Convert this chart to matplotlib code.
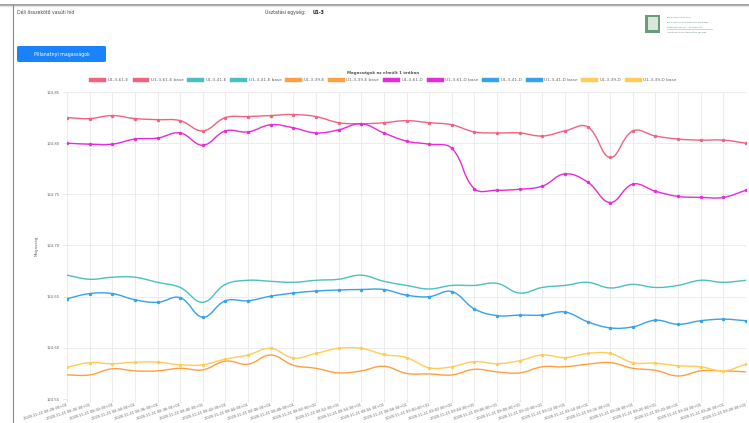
import numpy as np
import matplotlib
matplotlib.use('Agg')
import matplotlib.pyplot as plt
from matplotlib.path import Path
from matplotlib.patches import PathPatch, Patch, FancyBboxPatch, Rectangle
from matplotlib.lines import Line2D

# idopontok (2 percenkent)
times = ['2020-11-21 %02d:%02d:00+01' % divmod(8 * 60 + 28 + 2 * k, 60) for k in range(31)]

# magassagok
u61e = [124.825, 124.824, 124.827, 124.824, 124.823, 124.822, 124.812, 124.825, 124.826, 124.827,
        124.828, 124.826, 124.820, 124.819, 124.820, 124.822, 124.820, 124.818, 124.811, 124.810,
        124.810, 124.807, 124.812, 124.816, 124.786, 124.812, 124.807, 124.804, 124.803, 124.803,
        124.800]
u61d = [124.800, 124.799, 124.799, 124.804, 124.805, 124.810, 124.798, 124.812, 124.811, 124.818,
        124.815, 124.810, 124.813, 124.819, 124.810, 124.802, 124.799, 124.795, 124.7555, 124.754,
        124.755, 124.758, 124.770, 124.762, 124.742, 124.760, 124.753, 124.748, 124.747, 124.747,
        124.754]
u41e = [124.671, 124.667, 124.669, 124.669, 124.664, 124.659, 124.6445, 124.662, 124.666, 124.665,
        124.664, 124.666, 124.667, 124.671, 124.665, 124.661, 124.6575, 124.661, 124.661, 124.663,
        124.6535, 124.659, 124.661, 124.664, 124.6585, 124.662, 124.659, 124.661, 124.666, 124.664,
        124.666]
u41d = [124.648, 124.653, 124.653, 124.647, 124.6445, 124.649, 124.630, 124.646, 124.646, 124.6505,
        124.6535, 124.6555, 124.6565, 124.657, 124.657, 124.6515, 124.650, 124.655, 124.638, 124.6315,
        124.632, 124.632, 124.635, 124.6255, 124.6195, 124.6205, 124.627, 124.623, 124.6265, 124.628,
        124.6265]
u39e = [124.5735, 124.5735, 124.5795, 124.5775, 124.5775, 124.580, 124.5785, 124.587, 124.584, 124.593,
        124.583, 124.580, 124.5755, 124.5775, 124.582, 124.575, 124.5745, 124.5735, 124.579, 124.5765,
        124.5755, 124.5815, 124.5815, 124.584, 124.5855, 124.580, 124.578, 124.5725, 124.5775, 124.5775,
        124.5765]
u39d = [124.581, 124.5855, 124.5845, 124.586, 124.586, 124.5835, 124.5835, 124.589, 124.593, 124.5995,
        124.590, 124.5945, 124.5995, 124.5995, 124.5935, 124.5905, 124.5805, 124.5815, 124.5865, 124.5845,
        124.5875, 124.593, 124.5905, 124.5945, 124.5945, 124.5855, 124.585, 124.5825, 124.5815, 124.5775,
        124.584]

names = ['U1-3-61-E', 'U1-3-61-E base', 'U1-3-41-E', 'U1-3-41-E base', 'U1-3-39-E', 'U1-3-39-E base',
         'U1-3-61-D', 'U1-3-61-D base', 'U1-3-41-D', 'U1-3-41-D base', 'U1-3-39-D', 'U1-3-39-D base']
colors = ['#f2627f', '#f2627f', '#4bc0c0', '#4bc0c0', '#ff9f40', '#ff9f40',
          '#e82ad8', '#e82ad8', '#36a2eb', '#36a2eb', '#ffcd56', '#ffcd56']

yticks = [124.55, 124.60, 124.65, 124.70, 124.75, 124.80, 124.85]


def spline(ax, x, y, color, tension=0.4, sx=22.6, sy=1023.3):
    # bezier gorbe mint a chart.js-ben (pixel aranyokkal szamolva)
    px = np.array(x, float) * sx
    py = np.array(y, float) * sy
    n = len(px)
    verts = [(px[0], py[0])]
    codes = [Path.MOVETO]
    cps = []
    for i in range(n):
        p0 = (px[max(i - 1, 0)], py[max(i - 1, 0)])
        p2 = (px[min(i + 1, n - 1)], py[min(i + 1, n - 1)])
        d01 = np.hypot(px[i] - p0[0], py[i] - p0[1])
        d12 = np.hypot(p2[0] - px[i], p2[1] - py[i])
        tot = d01 + d12
        s01 = d01 / tot if tot else 0
        s12 = d12 / tot if tot else 0
        fa = tension * s01
        fb = tension * s12
        prev = (px[i] - fa * (p2[0] - p0[0]), py[i] - fa * (p2[1] - p0[1]))
        nxt = (px[i] + fb * (p2[0] - p0[0]), py[i] + fb * (p2[1] - p0[1]))
        cps.append((prev, nxt))
    for i in range(n - 1):
        verts += [cps[i][1], cps[i + 1][0], (px[i + 1], py[i + 1])]
        codes += [Path.CURVE4] * 3
    verts = [(a / sx, b / sy) for a, b in verts]
    ax.add_patch(PathPatch(Path(verts, codes), fc='none', ec=color, lw=1.0, zorder=3))


fig = plt.figure(figsize=(7.49, 4.23), dpi=100)
fig.patch.set_facecolor('white')
ax = fig.add_axes([67 / 749, 1 - 399 / 423, 679 / 749, 307 / 423])

x = np.arange(len(times))
series = [(u61e, colors[0], True), (u41e, colors[2], False), (u39e, colors[4], False),
          (u61d, colors[6], True), (u41d, colors[8], True), (u39d, colors[10], True)]
for vals, c, mk in series:
    spline(ax, x, vals, c)
    if mk:
        ax.plot(x, vals, 'o', ls='none', color=c, ms=2.5, mew=0, zorder=4)

ax.set_xlim(0, len(times) - 1)
ax.set_ylim(124.55, 124.85)
ax.set_yticks(yticks)
ax.set_yticklabels(['%.2f' % v for v in yticks])
ax.set_xticks(x)
ax.set_xticklabels(times, rotation=18, ha='right', va='top', rotation_mode='anchor')
ax.tick_params(axis='both', labelsize=2.7, colors='#e2e2e2', labelcolor='#666666', length=3, width=0.6, pad=2)
ax.tick_params(axis='x', labelsize=2.6, length=2, pad=0.8)
ax.grid(True, color='#ececec', lw=0.7)
for s in ax.spines.values():
    s.set_visible(False)
ax.set_ylabel('Magasság', fontsize=2.9, color='#666666', labelpad=6)

# cim + jelmagyarazat
fig.text(383 / 749, 1 - 73 / 423, 'Magasságok az elmúlt 1 órában', ha='center', va='center',
         fontsize=2.9, fontweight='bold', color='#555555')
handles = [Patch(facecolor=c, edgecolor=c, lw=0.3) for c in colors]
fig.legend(handles, names, loc='center', bbox_to_anchor=(383 / 749, 1 - 80 / 423), ncol=12,
           frameon=False, fontsize=3.1, handlelength=3.9, handleheight=1.3, handletextpad=0.3,
           columnspacing=0.9, labelcolor='#666666', borderpad=0)

# oldal elemei
fig.add_artist(Line2D([0, 1], [1 - 5 / 423, 1 - 5 / 423], color='#9a9a9a', lw=1.3))
fig.add_artist(Line2D([0, 1], [1 - 6.5 / 423, 1 - 6.5 / 423], color='#e4e4e4', lw=1.0))
fig.add_artist(Line2D([12.5 / 749, 12.5 / 749], [0, 1 - 5 / 423], color='#8a8a8a', lw=0.8))
fig.text(17 / 749, 1 - 12 / 423, 'Déli összekötő vasúti híd', ha='left', va='center',
         fontsize=3.3, color='#444444')
fig.text(265 / 749, 1 - 12 / 423, 'Úsztatási egység: ', ha='left', va='center',
         fontsize=3.3, color='#444444')
fig.text(313 / 749, 1 - 12 / 423, 'U1-3', ha='left', va='center', fontsize=3.3,
         fontweight='bold', color='#222222')

btn = FancyBboxPatch((17 / 749, 1 - 62 / 423), 89 / 749, 16 / 423,
                     boxstyle='round,pad=0,rounding_size=0.003', fc='#1a82fb', ec='none',
                     transform=fig.transFigure)
fig.add_artist(btn)
fig.text(61.5 / 749, 1 - 54 / 423, 'Pillanatnyi magasságok', ha='center', va='center',
         fontsize=3.4, color='white')

# logo
fig.add_artist(Rectangle((645 / 749, 1 - 33 / 423), 15 / 749, 18 / 423, fc='#6a9c7c', ec='none',
                         transform=fig.transFigure))
fig.add_artist(Rectangle((647.5 / 749, 1 - 30.5 / 423), 10 / 749, 13 / 423, fc='#d8e6dc', ec='none',
                         transform=fig.transFigure))
logo_txt = ['BUDAPESTI MŰSZAKI', 'ÉS GAZDASÁGTUDOMÁNYI EGYETEM', 'Építőmérnöki Kar - általános és',
            'Általános és Felsőgeodézia Tanszék']
for k, t in enumerate(logo_txt):
    fig.text(667 / 749, 1 - (17 + k * 5.2) / 423, t, ha='left', va='center', fontsize=1.6,
             color='#5f7f6a')
fig.add_artist(Line2D([667 / 749, 712 / 749], [1 - 29.5 / 423, 1 - 29.5 / 423], color='#9fb8a8', lw=0.4))

fig.savefig('out.png', dpi=100)
